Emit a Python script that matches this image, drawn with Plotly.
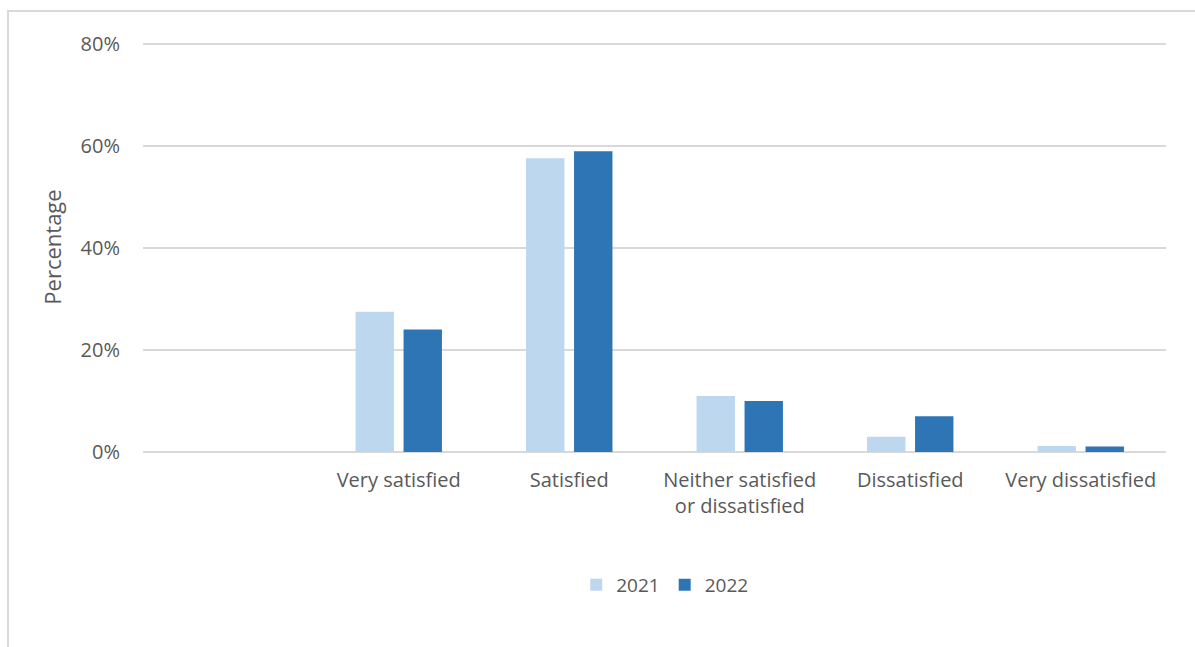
import plotly.graph_objects as go

# Satisfaction survey responses by year (percent of respondents)
categories = [" ", "Very satisfied", "Satisfied", "Neither satisfied<br>or dissatisfied",
              "Dissatisfied", "Very dissatisfied"]
values_2021 = [None, 27.5, 57.6, 11.0, 3.0, 1.2]
values_2022 = [None, 24.0, 59.0, 10.0, 7.0, 1.1]
y_ticks = [0, 20, 40, 60, 80]
y_tick_labels = ["0%", "20%", "40%", "60%", "80%"]

FONT = "'Open Sans', Lato, sans-serif"
TEXT = "#595959"
GRID = "#d9d9d9"
FS = 20

# plot area: 0% at y=452px, 80% at y=44px; small headroom so the top gridline shows
Y_TOP = 80.4
TOP_MARGIN = 44 - round(0.4 * 408 / 80)

fig = go.Figure()
fig.add_trace(go.Bar(name="2021", x=categories, y=values_2021,
                     marker=dict(color="#BDD7EE", line=dict(width=0))))
fig.add_trace(go.Bar(name="2022", x=categories, y=values_2022,
                     marker=dict(color="#2E75B6", line=dict(width=0))))

plot_h = 647 - TOP_MARGIN - 195
fig.update_layout(
    width=1195, height=647,
    margin=dict(l=143, r=29, t=TOP_MARGIN, b=195),
    paper_bgcolor="white", plot_bgcolor="white",
    barmode="group", bargap=0.437, bargroupgap=0.2,
    font=dict(family=FONT, size=FS, color=TEXT),
    showlegend=True,
    legend=dict(orientation="h", x=0.51, xanchor="center", y=(452 - 585) / plot_h,
                yanchor="middle",
                font=dict(family=FONT, size=19, color=TEXT),
                itemwidth=30, traceorder="normal"),
    xaxis=dict(categoryorder="array", categoryarray=categories,
               showgrid=False, showline=False, zeroline=False, ticks="",
               tickfont=dict(family=FONT, size=FS, color=TEXT), ticklabelstandoff=14),
    yaxis=dict(range=[0, Y_TOP], tickvals=y_ticks, ticktext=y_tick_labels,
               showgrid=True, gridcolor=GRID, gridwidth=2,
               zeroline=True, zerolinecolor=GRID, zerolinewidth=2,
               showline=False, ticks="", ticklabelstandoff=22,
               tickfont=dict(family=FONT, size=FS, color=TEXT),
               title=dict(text="Percentage", standoff=12,
                          font=dict(family=FONT, size=22, color=TEXT))),
    shapes=[dict(type="rect", xref="paper", yref="paper",
                 x0=(8 - 143) / 1023, x1=1.2, y0=-0.6, y1=(452 - 11) / plot_h,
                 line=dict(color="#d9d9d9", width=2), fillcolor="rgba(0,0,0,0)",
                 layer="below")],
)

fig.write_html("out.html")
